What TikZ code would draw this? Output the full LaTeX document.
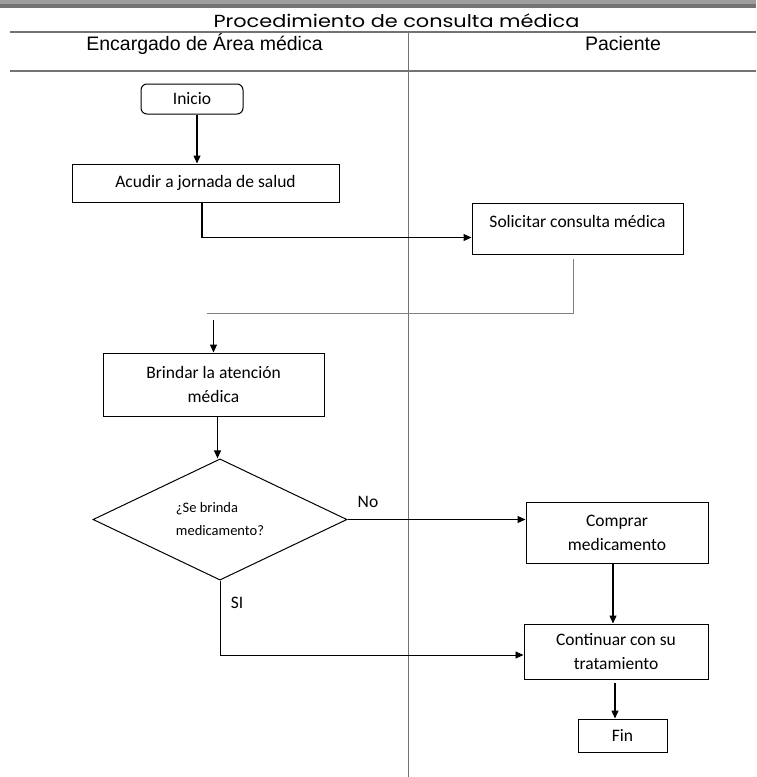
\documentclass[tikz,border=0pt]{standalone}
\usepackage{fontspec}
\setmainfont{Carlito}
\newfontfamily\titlefont{Poppins}
\newfontfamily\headfont{Liberation Sans}
\usetikzlibrary{arrows.meta,shapes.geometric}
\begin{document}
\begin{tikzpicture}[x=1pt,y=-1pt,
  box/.style={draw,line width=1pt,align=center,inner sep=2pt,font=\fontsize{17.5}{24}\selectfont},
  arr/.style={line width=1.1pt,-{Triangle[length=8pt,width=7pt]}},
  lane/.style={line width=1.1pt,black!55},
  head/.style={anchor=base,inner sep=0pt,font=\headfont\fontsize{19.5}{22}\selectfont},
  lbl/.style={font=\fontsize{17.5}{20}\selectfont,inner sep=0pt}]
\useasboundingbox (0,0) rectangle (756,777);
\fill[black!38] (0,0) rectangle (756,4);
\fill[black!55] (0,4) rectangle (756,7.5);
\node[anchor=base,inner sep=0pt,xscale=1.19,font=\titlefont\fontsize{17.5}{20}\selectfont] (title) at (396.5,27.3) {Procedimiento de consulta médica};
\node[head] (encargado) at (204.5,50.5) {Encargado de Área médica};
\node[head] (paciente) at (623,50.5) {Paciente};
\draw[lane] (10,32) -- (756,32);
\draw[lane] (10,71) -- (756,71);
\draw[lane] (408.5,32) -- (408.5,777);
\node[box,rounded corners=6pt,minimum width=102pt,minimum height=30pt] (inicio) at (192,99) {Inicio};
\node[box,minimum width=267pt,minimum height=38pt] (acudir) at (205.5,183) {Acudir a jornada de salud};
\node[box,minimum width=211pt,minimum height=51pt,text height=12pt,text depth=15pt] (solicitar) at (577.5,228.5) {Solicitar consulta médica};
\node[box,minimum width=221pt,minimum height=63pt] (brindar) at (213.5,384.5) {Brindar la atención\\médica};
\node[draw,diamond,line width=1pt,minimum width=254pt,minimum height=113pt,inner sep=0pt,align=left,font=\fontsize{14.5}{23}\selectfont] (decision) at (220,519.5) {¿Se brinda\\medicamento?};
\node[box,minimum width=182pt,minimum height=61pt] (comprar) at (617,532.5) {Comprar\\medicamento};
\node[box,minimum width=184pt,minimum height=55pt] (continuar) at (616,651.5) {Continuar con su\\tratamiento};
\node[box,minimum width=89pt,minimum height=33pt] (fin) at (622.5,735.5) {Fin};
\coordinate (turn) at (207,313);
\coordinate (drop) at (213.5,320);
\draw[arr] ([xshift=5pt]inicio.south) -- ([xshift=5pt]inicio.south |- acudir.north);
\draw[arr] ([xshift=-3.5pt]acudir.south) |- ([yshift=-9pt]solicitar.west);
\draw[line width=1pt,black!50] ([xshift=-4.5pt,yshift=-4pt]solicitar.south) |- (turn);
\draw[arr] (drop) -- (brindar.north);
\draw[arr] ([xshift=4pt]brindar.south) -- ([xshift=4pt]brindar.south |- decision.north);
\draw[arr] (decision.east) -- (decision.east -| comprar.west);
\node[lbl,anchor=base] (no) at (368,507) {No};
\draw[arr,line width=0.8pt] (decision.south) |- ([yshift=-3.5pt]continuar.west);
\node[lbl,anchor=base] (si) at (237,608) {SI};
\draw[arr] ([xshift=-4pt]comprar.south) -- ([xshift=-4pt]comprar.south |- continuar.north);
\draw[arr] ([xshift=-1pt,yshift=-3pt]continuar.south) -- ([xshift=-1pt]continuar.south |- fin.north);
\end{tikzpicture}
\end{document}
